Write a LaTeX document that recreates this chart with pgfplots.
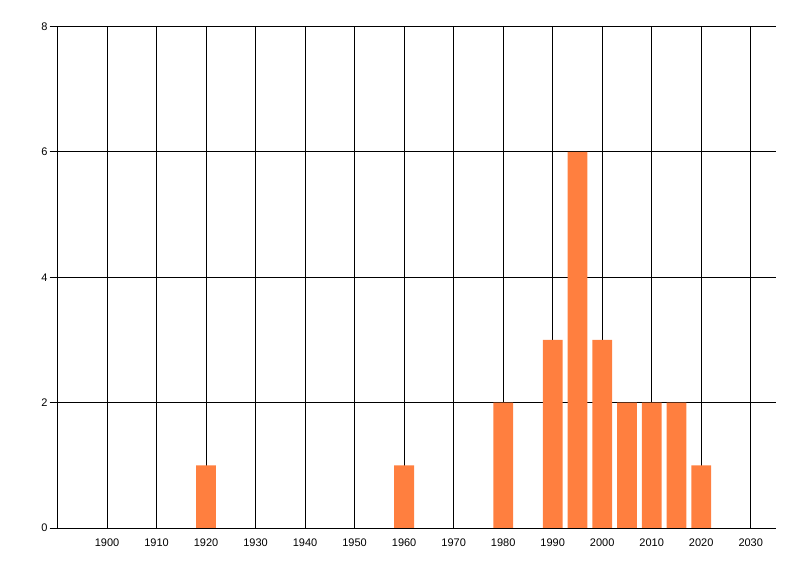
\documentclass[border=0pt]{standalone}
\usepackage{fontspec}
\setmainfont{Liberation Sans}
\usepackage{pgfplots}
\pgfplotsset{compat=1.18}
\definecolor{barorange}{RGB}{255,127,63}
\begin{document}
\begin{tikzpicture}
\path[use as bounding box] (0,0) rectangle (800bp,576bp);
\begin{axis}[
  at={(57.5bp,48bp)}, anchor=south west,
  scale only axis, width=718bp, height=501.5bp,
  xmin=1890, xmax=2035, ymin=0, ymax=8,
  axis x line=bottom, axis y line=left,
  axis line style={-, line width=0.9bp, black},
  xtick={1900,1910,...,2030},
  ytick={0,2,4,6,8},
  xmajorgrids, ymajorgrids,
  grid style={line width=0.9bp, black},
  x tick style={draw=none},
  y tick style={line width=0.9bp, black},
  major tick length=8bp,
  tick align=outside,
  ytick pos=left,
  tick label style={font=\fontsize{11bp}{13bp}\selectfont},
  /pgf/number format/assume math mode=true,
  /pgf/number format/1000 sep={},
  xticklabel style={yshift=1bp},
  yticklabel style={xshift=1.5bp},
]
\addplot[ybar, bar width=4, bar shift=0, fill=barorange, draw=none] coordinates {
(1920,1) (1960,1) (1980,2) (1990,3) (1995,6) (2000,3) (2005,2) (2010,2) (2015,2) (2020,1)
};
\end{axis}
\end{tikzpicture}
\end{document}
